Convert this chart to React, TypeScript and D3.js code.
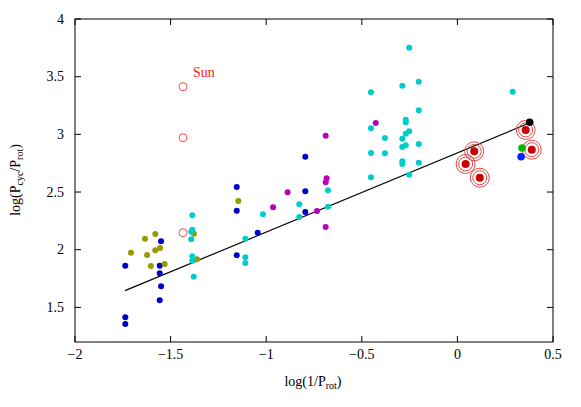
import React from "react";
import * as d3 from "d3";

type P = [number, number];

const xTicks = [-2, -1.5, -1, -0.5, 0, 0.5];
const yTicks = [1.5, 2, 2.5, 3, 3.5, 4];

const bluePts: P[] = [
  [-1.737, 1.861], [-1.737, 1.414], [-1.737, 1.356], [-1.55, 2.073], [-1.557, 1.861],
  [-1.557, 1.796], [-1.55, 1.683], [-1.557, 1.562], [-1.154, 2.544], [-1.154, 2.338],
  [-1.154, 1.952], [-1.0445, 2.148], [-0.7955, 2.806], [-0.7955, 2.506], [-0.7955, 2.327],
];
const olivePts: P[] = [
  [-1.707, 1.974], [-1.634, 2.096], [-1.58, 2.136], [-1.623, 1.954], [-1.58, 1.995],
  [-1.555, 2.015], [-1.603, 1.859], [-1.531, 1.876], [-1.378, 2.139], [-1.362, 1.917],
  [-1.146, 2.422],
];
const cyanPts: P[] = [
  [-1.3865, 2.298], [-1.3865, 2.174], [-1.392, 2.156], [-1.392, 2.09], [-1.3865, 1.943],
  [-1.3865, 1.905], [-1.379, 1.766], [-1.109, 2.096], [-1.109, 1.934], [-1.109, 1.885],
  [-1.017, 2.307], [-0.827, 2.394], [-0.827, 2.284], [-0.677, 2.515], [-0.677, 2.373],
  [-0.452, 3.365], [-0.452, 3.053], [-0.452, 2.838], [-0.452, 2.628], [-0.379, 2.968],
  [-0.379, 2.836], [-0.288, 3.422], [-0.288, 2.962], [-0.288, 2.89], [-0.288, 2.766],
  [-0.288, 2.743], [-0.27, 3.127], [-0.27, 3.105], [-0.27, 3.006], [-0.27, 2.905],
  [-0.252, 3.751], [-0.252, 3.027], [-0.252, 2.65], [-0.202, 3.457], [-0.202, 3.209],
  [-0.202, 2.916], [-0.202, 2.754], [0.289, 3.37],
];
const magentaPts: P[] = [
  [-0.689, 2.988], [-0.684, 2.619], [-0.689, 2.584], [-0.888, 2.498], [-0.964, 2.368],
  [-0.734, 2.336], [-0.689, 2.197], [-0.427, 3.098],
];
const sunPts: P[] = [[-1.435, 3.413], [-1.435, 2.971], [-1.435, 2.148]];
const ringPts: P[] = [[0.357, 3.038], [0.389, 2.867], [0.088, 2.853], [0.043, 2.743], [0.117, 2.624]];
const blackPts: P[] = [[0.378, 3.105]];
const greenPts: P[] = [[0.338, 2.882]];
const brightBluePts: P[] = [[0.333, 2.806]];
const fitLine: P[] = [[-1.7385, 1.645], [0.376, 3.098]];

const W = 581, H = 407;
const L = 75, R = 553, T = 19, B = 342;
const FONT = "'Liberation Serif', 'Times New Roman', 'DejaVu Serif', serif";

export default function App() {
  const x = d3.scaleLinear().domain([-2, 0.5]).range([L, R]);
  const y = d3.scaleLinear().domain([1.2, 4]).range([B, T]);
  const line = d3.line<P>().x(d => x(d[0])).y(d => y(d[1]));
  const ts = { fontFamily: FONT };
  const dots = (pts: P[], color: string, r = 3) =>
    pts.map((d, i) => <circle key={color + i} cx={x(d[0])} cy={y(d[1])} r={r} fill={color} />);
  return (
    <svg width={W} height={H} style={{ position: "absolute", left: 0, top: 0, fontFamily: FONT }}>
      <rect width={W} height={H} fill="#fff" />
      {xTicks.map(t => (
        <g key={"x" + t}>
          <line x1={x(t)} x2={x(t)} y1={B} y2={B - 6} stroke="#000" />
          <line x1={x(t)} x2={x(t)} y1={T} y2={T + 6} stroke="#000" />
          <text x={x(t)} y={359} fontSize={14} textAnchor="middle" style={ts}>{t < 0 ? "\u2212" + Math.abs(t) : String(t)}</text>
        </g>
      ))}
      {yTicks.map(t => (
        <g key={"y" + t}>
          <line x1={L} x2={L + 6} y1={y(t)} y2={y(t)} stroke="#000" />
          <line x1={R} x2={R - 6} y1={y(t)} y2={y(t)} stroke="#000" />
          <text x={64} y={y(t) + 4.5} fontSize={14} textAnchor="end" style={ts}>{String(t)}</text>
        </g>
      ))}
      <rect x={L} y={T} width={R - L} height={B - T} fill="none" stroke="#000" strokeWidth={1} />
      <path d={line(fitLine) || ""} stroke="#000" strokeWidth={1.2} fill="none" />
      {dots(bluePts, "#0000cc")}
      {dots(olivePts, "#999900")}
      {dots(cyanPts, "#00cccc")}
      {dots(magentaPts, "#bb00bb")}
      {sunPts.map((d, i) => (
        <circle key={"s" + i} cx={x(d[0])} cy={y(d[1])} r={4} fill="none" stroke="#ff4a4a" strokeWidth={1} />
      ))}
      {ringPts.map((d, i) => (
        <g key={"r" + i}>
          <circle cx={x(d[0])} cy={y(d[1])} r={9.5} fill="none" stroke="#e04848" strokeWidth={1} />
          <circle cx={x(d[0])} cy={y(d[1])} r={7} fill="none" stroke="#e04848" strokeWidth={1} />
          <circle cx={x(d[0])} cy={y(d[1])} r={4} fill="#cc0000" />
        </g>
      ))}
      {dots(greenPts, "#00bb00", 3.8)}
      {dots(brightBluePts, "#0022ff", 3.8)}
      {dots(blackPts, "#000000", 3.8)}
      <text x={193} y={77} fontSize={14} fill="#ff2020" style={ts}>Sun</text>
      <text x={313} y={386} fontSize={14} textAnchor="middle" style={ts}>
        log(1/P<tspan fontSize={10} dy={3}>rot</tspan><tspan dy={-3}>)</tspan>
      </text>
      <text transform="translate(20,180) rotate(-90)" fontSize={14} textAnchor="middle" style={ts}>
        log(P<tspan fontSize={10} dy={3}>cyc</tspan><tspan dy={-3}>/P</tspan><tspan fontSize={10} dy={3}>rot</tspan><tspan dy={-3}>)</tspan>
      </text>
    </svg>
  );
}
